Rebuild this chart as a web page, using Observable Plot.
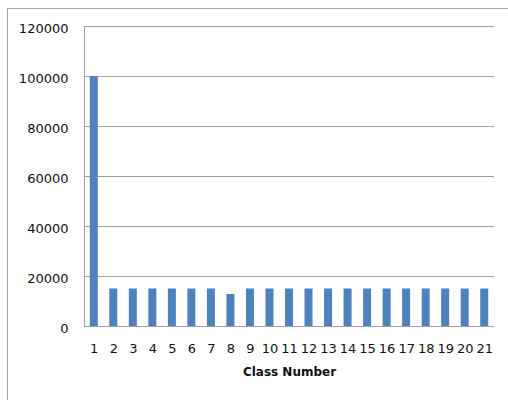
<!DOCTYPE html>
<html>
<head>
<meta charset="utf-8">
<script src="https://cdn.jsdelivr.net/npm/d3@7"></script>
<script src="https://cdn.jsdelivr.net/npm/@observablehq/plot@0.6"></script>
<style>
  body { margin: 0; background: #fff; }
  #wrap { position: relative; width: 508px; height: 400px; overflow: hidden; }
  #border { position: absolute; left: 7px; top: 8px; width: 620px; height: 520px;
            border-top: 1px solid #a6a6a6; border-left: 1px solid #a6a6a6; }
  #chart { position: absolute; left: 0; top: 0; }
</style>
</head>
<body>
<div id="wrap"><div id="border"></div><div id="chart"></div></div>
<script>
const classes = ["1","2","3","4","5","6","7","8","9","10","11","12","13","14","15","16","17","18","19","20","21"];
const counts = [100000,15000,15000,15000,15000,15000,15000,12800,15000,15000,15000,15000,15000,15000,15000,15000,15000,15000,15000,15000,15000];
const yTicks = [0,20000,40000,60000,80000,100000,120000];
const xLabel = "Class Number";

const data = classes.map((c, i) => ({cls: c, value: counts[i]}));

const chart = Plot.plot({
  width: 508,
  height: 400,
  marginLeft: 84,
  marginRight: 14,
  marginTop: 26,
  marginBottom: 74,
  style: {fontFamily: "DejaVu Sans", fontSize: "13px", color: "#111", background: "transparent"},
  x: {domain: classes, paddingInner: 0.59, paddingOuter: 0.295, round: false, label: null},
  y: {domain: [0, 120000], ticks: yTicks, label: null},
  marks: [
    Plot.ruleY(yTicks, {stroke: "#a0a0a0", strokeWidth: 1}),
    Plot.frame({anchor: "left", stroke: "#a0a0a0"}),
    Plot.barY(data, {x: "cls", y: "value", fill: "#4f81bd"}),
    Plot.axisY({ticks: yTicks, tickSize: 0, tickPadding: 16, tickFormat: d3.format("d"), dy: 2, label: null}),
    Plot.axisX({tickSize: 0, tickPadding: 17, label: null}),
    Plot.text([xLabel], {frameAnchor: "bottom", dy: 49, fontWeight: "bold", fontSize: 12, fill: "#111"})
  ]
});
document.getElementById("chart").appendChild(chart);
</script>
</body>
</html>
